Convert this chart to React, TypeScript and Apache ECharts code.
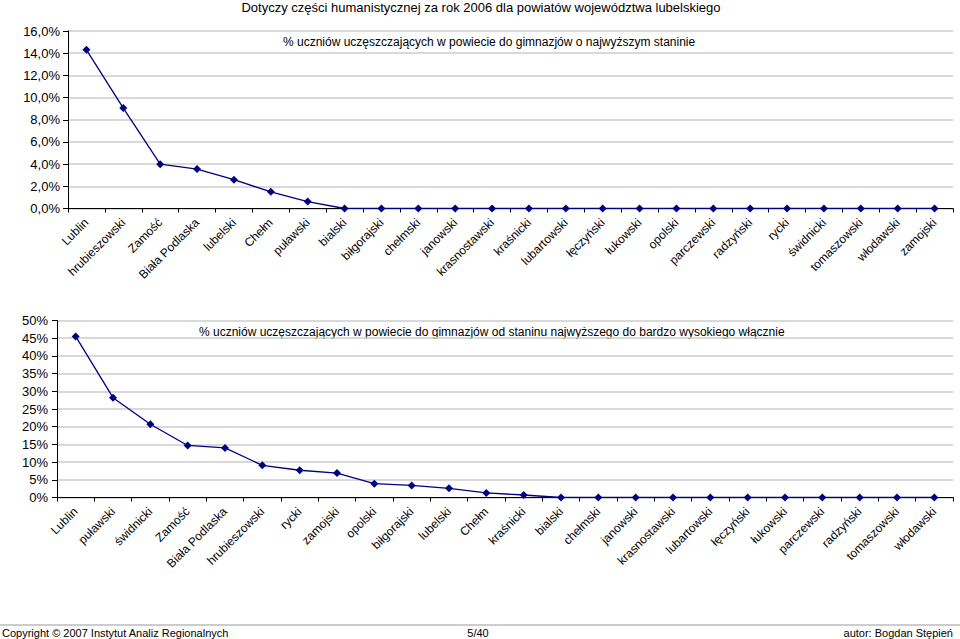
import React, { useEffect, useRef } from "react";
import * as echarts from "echarts";

const TITLE = "Dotyczy części humanistycznej za rok 2006 dla powiatów województwa lubelskiego";
const SUB1 = "% uczniów uczęszczających w powiecie do gimnazjów o najwyższym staninie";
const SUB2 = "% uczniów uczęszczających w powiecie do gimnazjów od staninu najwyższego do bardzo wysokiego włącznie";

const cats1 = [
  "Lublin", "hrubieszowski", "Zamość", "Biała Podlaska", "lubelski", "Chełm", "puławski", "bialski",
  "biłgorajski", "chełmski", "janowski", "krasnostawski", "kraśnicki", "lubartowski", "łęczyński",
  "łukowski", "opolski", "parczewski", "radzyński", "rycki", "świdnicki", "tomaszowski", "włodawski", "zamojski",
];
const vals1 = [14.3, 9.05, 4.0, 3.55, 2.6, 1.5, 0.62, 0, 0, 0, 0, 0, 0, 0, 0, 0, 0, 0, 0, 0, 0, 0, 0, 0];

const cats2 = [
  "Lublin", "puławski", "świdnicki", "Zamość", "Biała Podlaska", "hrubieszowski", "rycki", "zamojski",
  "opolski", "biłgorajski", "lubelski", "Chełm", "kraśnicki", "bialski", "chełmski", "janowski",
  "krasnostawski", "lubartowski", "łęczyński", "łukowski", "parczewski", "radzyński", "tomaszowski", "włodawski",
];
const vals2 = [45.5, 28.2, 20.7, 14.7, 14.0, 9.1, 7.7, 6.9, 3.9, 3.4, 2.6, 1.3, 0.7, 0, 0, 0, 0, 0, 0, 0, 0, 0, 0, 0];

const yTicks1Max = 16;
const yTicks1Step = 2;
const yTicks2Max = 50;
const yTicks2Step = 5;

const FOOT_LEFT = "Copyright © 2007 Instytut Analiz Regionalnych";
const FOOT_MID = "5/40";
const FOOT_RIGHT = "autor: Bogdan Stępień";

const FONT = "'Liberation Sans', Arial, sans-serif";
const NAVY = "#000080";

export default function App() {
  const ref = useRef<HTMLDivElement>(null);
  useEffect(() => {
    if (!ref.current) return;
    const chart = echarts.init(ref.current, null, { renderer: "svg" });
    const xAxisCommon = {
      type: "category" as const,
      boundaryGap: true,
      axisLine: { lineStyle: { color: "#000", width: 1 } },
      axisTick: { show: true, interval: 0, length: 4, lineStyle: { color: "#000" } },
      axisLabel: { interval: 0, rotate: 45, fontSize: 12, color: "#000", fontFamily: FONT, margin: 12 },
      splitLine: { show: false },
    };
    const yAxisCommon = {
      type: "value" as const,
      min: 0,
      axisLine: { show: true, lineStyle: { color: "#000", width: 1 } },
      axisTick: { show: true, length: 5, lineStyle: { color: "#000" } },
      splitLine: { show: true, lineStyle: { color: "#cccccc", width: 1.5 } },
    };
    const seriesCommon = {
      type: "line" as const,
      symbol: "diamond",
      symbolSize: 8,
      lineStyle: { color: NAVY, width: 1.3 },
      itemStyle: { color: NAVY },
    };
    chart.setOption({
      animation: false,
      backgroundColor: "#fff",
      textStyle: { fontFamily: FONT },
      grid: [
        { left: 68, right: 7, top: 31, height: 177.5 },
        { left: 57, right: 7, top: 320.5, height: 177 },
      ],
      xAxis: [
        { ...xAxisCommon, gridIndex: 0, data: cats1 },
        { ...xAxisCommon, gridIndex: 1, data: cats2 },
      ],
      yAxis: [
        {
          ...yAxisCommon,
          gridIndex: 0,
          max: yTicks1Max,
          interval: yTicks1Step,
          axisLabel: {
            fontSize: 13, color: "#000", fontFamily: FONT, margin: 8,
            formatter: (v: number) => v.toFixed(1).replace(".", ",") + "%",
          },
        },
        {
          ...yAxisCommon,
          gridIndex: 1,
          max: yTicks2Max,
          interval: yTicks2Step,
          axisLabel: {
            fontSize: 13, color: "#000", fontFamily: FONT, margin: 9,
            formatter: (v: number) => v + "%",
          },
        },
      ],
      series: [
        { ...seriesCommon, xAxisIndex: 0, yAxisIndex: 0, data: vals1 },
        { ...seriesCommon, xAxisIndex: 1, yAxisIndex: 1, data: vals2 },
      ],
      graphic: [
        { type: "text", x: 481, y: 7, style: { text: TITLE, fontSize: 13, fill: "#000", fontFamily: FONT, align: "center", verticalAlign: "middle" } },
        { type: "text", x: 283, y: 42, style: { text: SUB1, fontSize: 12, fill: "#000", fontFamily: FONT, align: "left", verticalAlign: "middle" } },
        { type: "text", x: 199, y: 332, style: { text: SUB2, fontSize: 12, fill: "#000", fontFamily: FONT, align: "left", verticalAlign: "middle" } },
        { type: "line", shape: { x1: 0, y1: 625, x2: 960, y2: 625 }, style: { stroke: "#999", lineWidth: 1 } },
        { type: "text", x: 2, y: 633, style: { text: FOOT_LEFT, fontSize: 11, fill: "#000", fontFamily: "'Liberation Sans Narrow', " + FONT, align: "left", verticalAlign: "middle" } },
        { type: "text", x: 478, y: 633, style: { text: FOOT_MID, fontSize: 11, fill: "#000", fontFamily: "'Liberation Sans Narrow', " + FONT, align: "center", verticalAlign: "middle" } },
        { type: "text", x: 953, y: 633, style: { text: FOOT_RIGHT, fontSize: 11, fill: "#000", fontFamily: "'Liberation Sans Narrow', " + FONT, align: "right", verticalAlign: "middle" } },
      ],
    });
    return () => chart.dispose();
  }, []);
  return (
    <div
      ref={ref}
      style={{ position: "fixed", left: 0, top: 0, width: 960, height: 639, background: "#fff" }}
    />
  );
}
